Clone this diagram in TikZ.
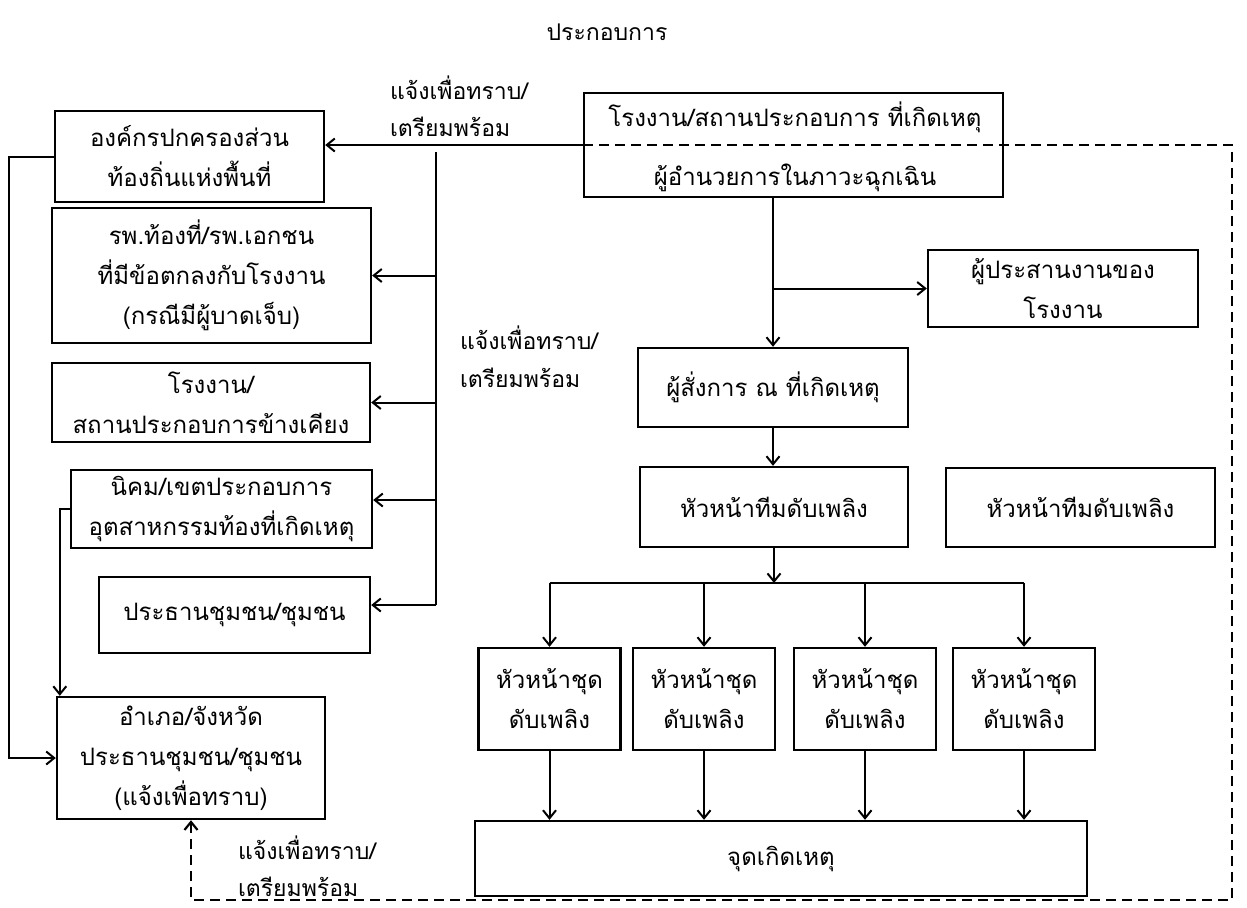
\documentclass[tikz,border=0pt]{standalone}
\usepackage{fontspec}
\newfontfamily\thaifont[Script=Thai]{Loma}
\usepackage{tikz}
\usetikzlibrary{arrows.meta}

\tikzset{
  box/.style={draw,line width=1.2pt,align=center,inner sep=0pt,font=\thaifont\fontsize{12}{20}\selectfont},
  lbl/.style={anchor=west,inner sep=0pt,font=\thaifont\fontsize{11.5}{20}\selectfont},
  txt/.style={inner sep=0pt,font=\thaifont\fontsize{12}{20}\selectfont},
  dline/.style={dash pattern=on 5pt off 3pt,line width=1.1pt}
}

\begin{document}
\begin{tikzpicture}[x=0.5pt,y=-0.5pt,line width=1pt,>={Straight Barb[length=4pt,width=6.5pt]}]
\useasboundingbox (0,0) rectangle (1247,907);

\node (title) at (607,32)[txt,font=\thaifont\fontsize{11.5}{14}\selectfont]{ประกอบการ};

\node (plant) at (793.5,145)[box,minimum width=209.5pt,minimum height=52pt]{};
\node (plantA) at (795,117)[txt]{โรงงาน/สถานประกอบการ ที่เกิดเหตุ};
\node (plantB) at (795,178)[txt]{ผู้อำนวยการในภาวะฉุกเฉิน};

\node (localgov) at (189.5,156.5)[box,minimum width=134.5pt,minimum height=45.5pt]{องค์กรปกครองส่วน\\ท้องถิ่นแห่งพื้นที่};
\node (rpw) at (211.5,275.5)[box,minimum width=159.5pt,minimum height=67.5pt]{รพ.ท้องที่/รพ.เอกชน\\ที่มีข้อตกลงกับโรงงาน\\(กรณีมีผู้บาดเจ็บ)};
\node (nbr) at (211,402.5)[box,minimum width=159pt,minimum height=39.5pt]{โรงงาน/\\สถานประกอบการข้างเคียง};
\node (estate) at (221.5,509)[box,minimum width=150.5pt,minimum height=39pt]{นิคม/เขตประกอบการ\\อุตสาหกรรมท้องที่เกิดเหตุ};
\node (community) at (234.5,615)[box,minimum width=135.5pt,minimum height=38pt]{ประธานชุมชน/ชุมชน};
\node (district) at (191,758)[box,minimum width=134pt,minimum height=61pt]{อำเภอ/จังหวัด\\ประธานชุมชน/ชุมชน\\(แจ้งเพื่อทราบ)};

\node (coordinator) at (1063,288.5)[box,minimum width=135pt,minimum height=38.5pt]{ผู้ประสานงานของ\\โรงงาน};
\node (commander) at (773,387.5)[box,minimum width=135pt,minimum height=39.5pt]{ผู้สั่งการ ณ ที่เกิดเหตุ};
\node (teamchief) at (774,507)[box,minimum width=134pt,minimum height=40pt]{หัวหน้าทีมดับเพลิง};
\node (teamchiefB) at (1080.5,507.5)[box,minimum width=134.5pt,minimum height=39.5pt]{หัวหน้าทีมดับเพลิง};

\foreach \i/\x in {1/549.5,2/704,3/865,4/1024}
  \node (squad\i) at (\x,699)[box,minimum width=71pt,minimum height=51pt]{หัวหน้าชุด\\ดับเพลิง};

\node (incident) at (781,858.5)[box,minimum width=306pt,minimum height=37.5pt]{จุดเกิดเหตุ};

\node (note1a) at (389,88)[lbl]{แจ้งเพื่อทราบ/};
\node (note1b) at (389,127)[lbl]{เตรียมพร้อม};
\node (note2a) at (459,338)[lbl]{แจ้งเพื่อทราบ/};
\node (note2b) at (459,378)[lbl]{เตรียมพร้อม};
\node (note3a) at (237,848)[lbl]{แจ้งเพื่อทราบ/};
\node (note3b) at (237,887)[lbl]{เตรียมพร้อม};

% notify lines, left side
\draw[->] (plant.west) -- (plant.west -| localgov.east);
\draw (436,152) coordinate (n0) -- (436,605) coordinate (n1);
\coordinate (n2) at (436,500);
\draw[->] (n0 |- rpw.east) -- (rpw.east);
\draw[->] (n0 |- nbr.east) -- (nbr.east);
\draw[->] (n2) -- (n2 -| estate.east);
\draw[->] (n1) -- (n1 -| community.east);
\draw[->] (localgov.west) -- ++(-45,0) |- (district.west);
\draw[->] (estate.west) -- ++(-10,0) coordinate (e1) -- (e1 |- district.north);

% command line
\draw[->] (plant.south -| commander.north) -- (commander.north);
\draw[->] (coordinator.west -| commander.north) -- (coordinator.west);
\draw[->] (commander.south) -- (commander.south |- teamchief.north);
\coordinate (bus) at (774,583);
\draw[->] (teamchief.south) -- (bus);
\draw (squad1.north |- bus) -- (squad4.north |- bus);
\foreach \i in {1,2,3,4}{
  \draw[->] (squad\i.north |- bus) -- (squad\i.north);
  \draw[->] (squad\i.south) -- (squad\i.south |- incident.north);
}

% dashed return
\coordinate (d1) at (1232,145);
\coordinate (d2) at (1232,900);
\draw[dline,->] (plant.west) -- (d1) -- (d2) -| (district.south);
\end{tikzpicture}
\end{document}
